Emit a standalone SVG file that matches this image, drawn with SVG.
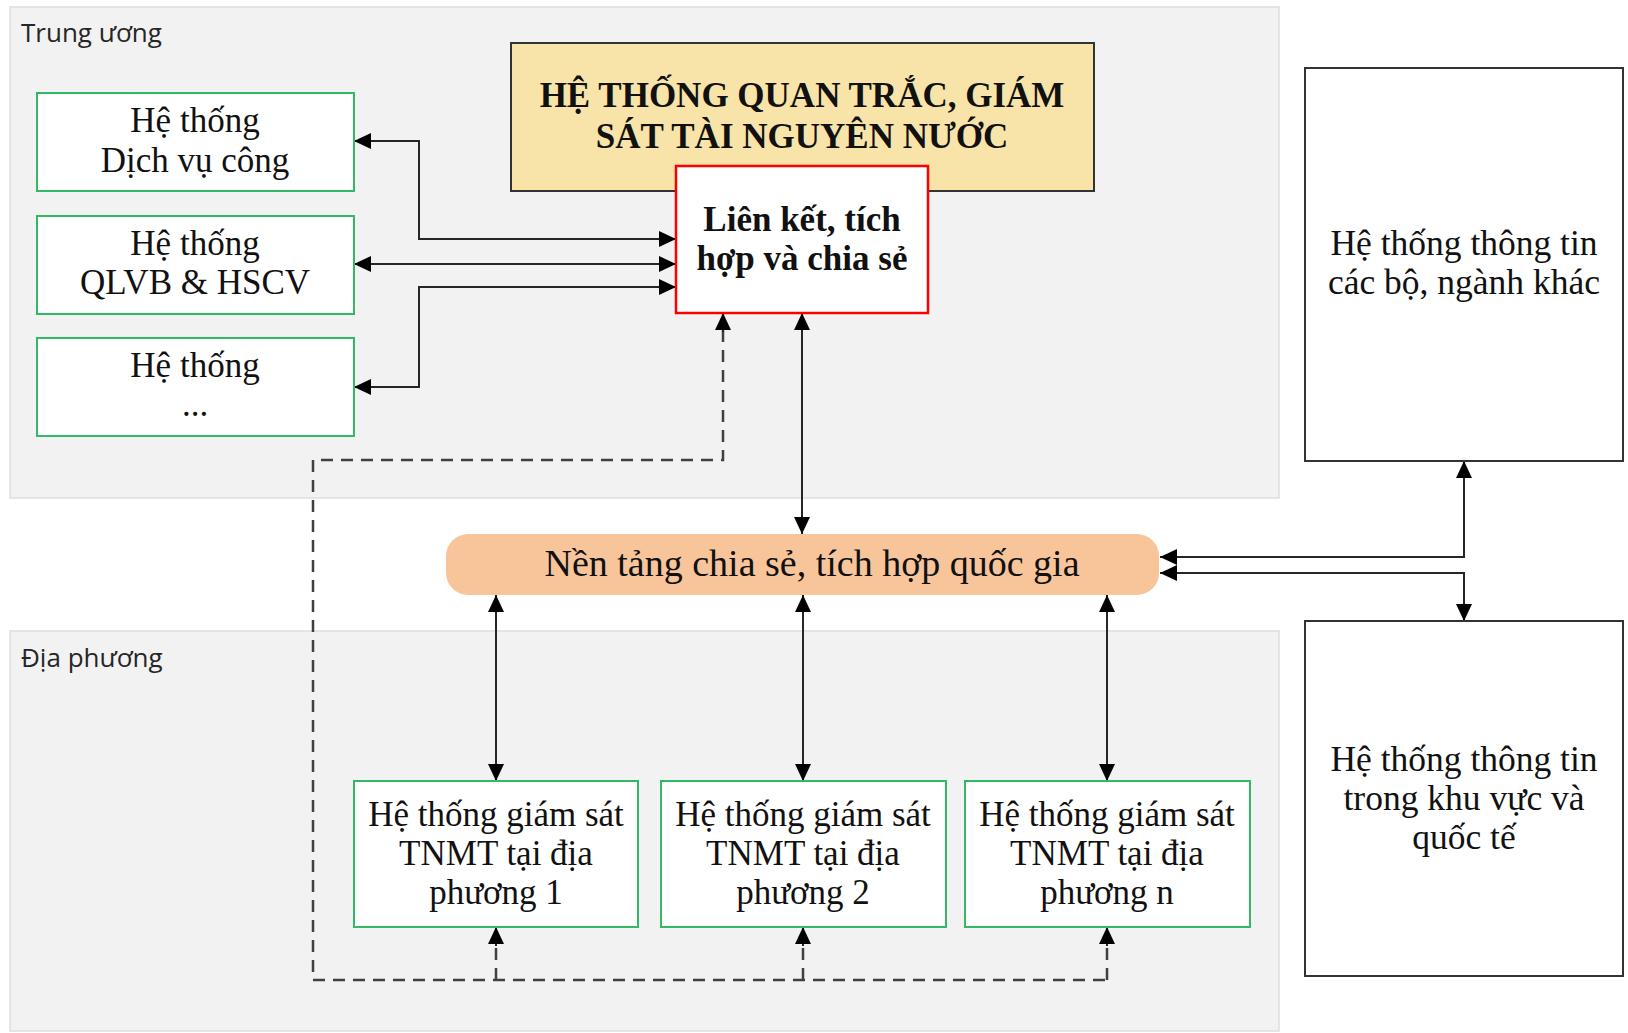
<svg xmlns="http://www.w3.org/2000/svg" width="1628" height="1033" viewBox="0 0 1628 1033">
<style>
.panel{fill:#f2f2f2;stroke:#dedede;stroke-width:1.5}
.plabel{font-family:"Open Sans","DejaVu Sans",sans-serif;font-size:26px;fill:#262626}
.gbox{fill:#ffffff;stroke:#33b864;stroke-width:2}
.kbox{fill:#ffffff;stroke:#333333;stroke-width:2}
.t{font-family:"Liberation Serif","Times New Roman",serif;font-size:35px;fill:#111111;text-anchor:middle}
.tb{font-family:"Liberation Serif","Times New Roman",serif;font-size:35px;font-weight:bold;fill:#111111;text-anchor:middle}
.con{fill:none;stroke:#262626;stroke-width:2;marker-start:url(#ar);marker-end:url(#ar)}
.one{fill:none;stroke:#262626;stroke-width:2;marker-end:url(#ar)}
.dash{fill:none;stroke:#404040;stroke-width:2.5;stroke-dasharray:12 8}
</style>
<defs>
<marker id="ar" markerUnits="userSpaceOnUse" markerWidth="18" markerHeight="16" refX="17" refY="8" orient="auto-start-reverse" viewBox="0 0 18 16">
<path d="M0,0 L17,8 L0,16 Z" fill="#000000"/>
</marker>
</defs>
<rect width="1628" height="1033" fill="#ffffff"/>
<g id="panel-trung-uong">
<rect class="panel" x="10" y="7" width="1269" height="491"/>
<text class="plabel" x="21" y="42">Trung ương</text>
</g>
<g id="panel-dia-phuong">
<rect class="panel" x="10" y="631" width="1269" height="400"/>
<text class="plabel" x="21" y="667">Địa phương</text>
</g>
<g id="connectors">
<path class="con" d="M354,141 L419,141 L419,239 L676,239"/>
<path class="con" d="M354,264 L676,264"/>
<path class="con" d="M354,387 L419,387 L419,287 L676,287"/>
<path class="con" d="M802,313 L802,534"/>
<path class="con" d="M496,595 L496,781"/>
<path class="con" d="M803,595 L803,781"/>
<path class="con" d="M1107,595 L1107,781"/>
<path class="con" d="M1464,461 L1464,557 L1160,557"/>
<path class="con" d="M1160,573 L1464,573 L1464,621"/>
<path class="dash" d="M723,330 L723,460 L313,460 L313,980 L1107,980"/>
<path class="dash" d="M496,980 L496,944"/>
<path class="dash" d="M803,980 L803,944"/>
<path class="dash" d="M1107,980 L1107,944"/>
<path class="one" d="M723,332 L723,313"/>
<path class="one" d="M496,946 L496,927"/>
<path class="one" d="M803,946 L803,927"/>
<path class="one" d="M1107,946 L1107,927"/>
</g>
<g id="node-dichvucong">
<rect class="gbox" x="37" y="93" width="317" height="98"/>
<text class="t" x="195" y="132">Hệ thống</text>
<text class="t" x="195" y="172">Dịch vụ công</text>
</g>
<g id="node-qlvb">
<rect class="gbox" x="37" y="216" width="317" height="98"/>
<text class="t" x="195" y="255">Hệ thống</text>
<text class="t" x="195" y="294">QLVB &amp; HSCV</text>
</g>
<g id="node-khac">
<rect class="gbox" x="37" y="338" width="317" height="98"/>
<text class="t" x="195" y="377">Hệ thống</text>
<text class="t" x="195" y="416">...</text>
</g>
<g id="node-quantrac">
<rect x="511" y="43" width="583" height="148" fill="#f8e4a8" stroke="#333333" stroke-width="2"/>
<text class="tb" x="802" y="107">HỆ THỐNG QUAN TRẮC, GIÁM</text>
<text class="tb" x="802" y="148">SÁT TÀI NGUYÊN NƯỚC</text>
</g>
<g id="node-lienket">
<rect x="676" y="166" width="252" height="147" fill="#ffffff" stroke="#ff0000" stroke-width="2.5"/>
<text class="tb" x="802" y="231">Liên kết, tích</text>
<text class="tb" x="802" y="270">hợp và chia sẻ</text>
</g>
<g id="node-nentang">
<rect x="446" y="534" width="713" height="61" rx="22" ry="22" fill="#f8c59b"/>
<text class="t" x="812" y="576" style="font-size:38px">Nền tảng chia sẻ, tích hợp quốc gia</text>
</g>
<g id="node-diaphuong1">
<rect class="gbox" x="354" y="781" width="284" height="146"/>
<text class="t" x="496" y="826">Hệ thống giám sát</text>
<text class="t" x="496" y="865">TNMT tại địa</text>
<text class="t" x="496" y="904">phương 1</text>
</g>
<g id="node-diaphuong2">
<rect class="gbox" x="661" y="781" width="285" height="146"/>
<text class="t" x="803" y="826">Hệ thống giám sát</text>
<text class="t" x="803" y="865">TNMT tại địa</text>
<text class="t" x="803" y="904">phương 2</text>
</g>
<g id="node-diaphuongn">
<rect class="gbox" x="965" y="781" width="285" height="146"/>
<text class="t" x="1107" y="826">Hệ thống giám sát</text>
<text class="t" x="1107" y="865">TNMT tại địa</text>
<text class="t" x="1107" y="904">phương n</text>
</g>
<g id="node-bonganh">
<rect class="kbox" x="1305" y="68" width="318" height="393"/>
<text class="t" x="1464" y="255" style="font-size:35.5px">Hệ thống thông tin</text>
<text class="t" x="1464" y="294" style="font-size:35.5px">các bộ, ngành khác</text>
</g>
<g id="node-quocte">
<rect class="kbox" x="1305" y="621" width="318" height="355"/>
<text class="t" x="1464" y="771" style="font-size:35.5px">Hệ thống thông tin</text>
<text class="t" x="1464" y="810" style="font-size:35.5px">trong khu vực và</text>
<text class="t" x="1464" y="849" style="font-size:35.5px">quốc tế</text>
</g>
</svg>
